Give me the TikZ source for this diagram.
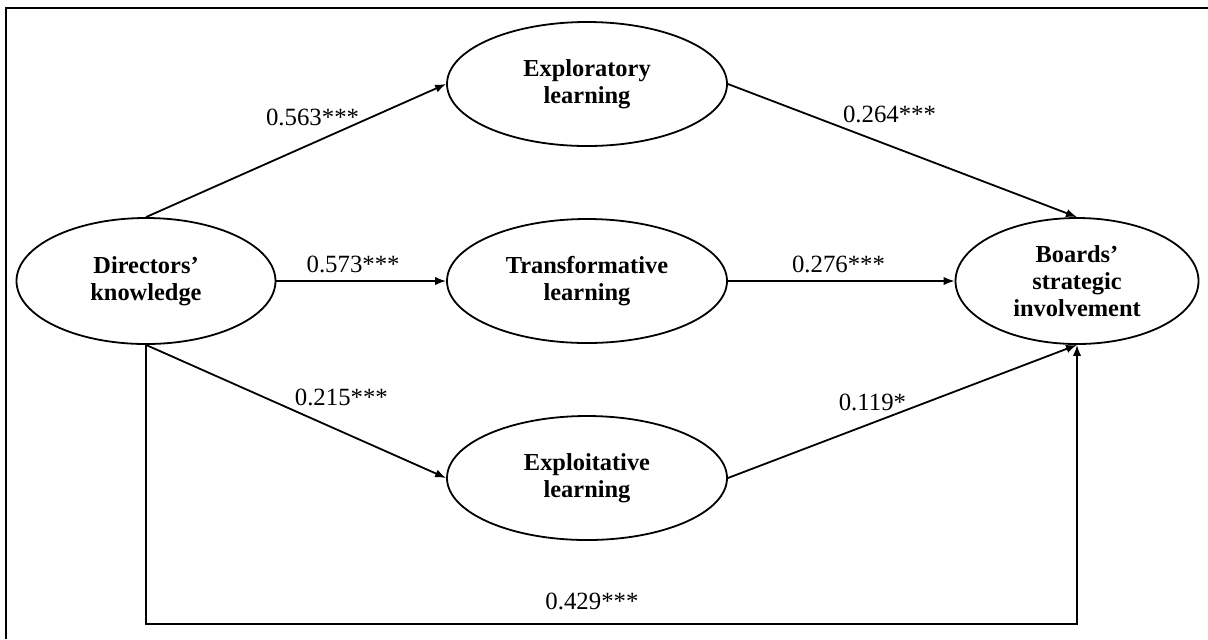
\documentclass[tikz,border=0pt]{standalone}
\usepackage{fontspec}
\setmainfont{Liberation Serif}
\usetikzlibrary{shapes.geometric,arrows.meta}
\begin{document}
\begin{tikzpicture}[x=0.5pt, y=-0.5pt]
% Mediation model drawn on the pixel grid of the figure (y runs down)
\providecommand{\semLineWidth}{0.9pt}
\providecommand{\semFrameWidth}{1.2pt}
\tikzset{
  latent/.style={ellipse, draw, line width=\semLineWidth, inner sep=0pt,
    align=center, font=\fontsize{12.2}{13.5}\selectfont\bfseries},
  effect/.style={-{Latex[length=5.5pt,width=4.2pt]}, line width=\semLineWidth},
  coef/.style={inner sep=0pt, font=\fontsize{12.4}{14}\selectfont}
}
\useasboundingbox (0,0) rectangle (1208,639);
% Frame, cut off at the right and bottom
\draw[line width=\semFrameWidth] (6,639) -- (6,8) -- (1208,8);
% Constructs
\node[latent, minimum width=129.5pt, minimum height=63pt] (dk) at (146,281) {Directors'\\knowledge};
\node[latent, minimum width=140pt, minimum height=62pt] (expl) at (587,84) {Exploratory\\learning};
\node[latent, minimum width=140pt, minimum height=62pt] (trans) at (587,281) {Transformative\\learning};
\node[latent, minimum width=140pt, minimum height=62pt] (explt) at (587,478) {Exploitative\\learning};
\node[latent, minimum width=121.5pt, minimum height=63pt] (bsi) at (1077,281) {Boards'\\strategic\\involvement};
% Paths with coefficients
\draw[effect] (dk.north) -- node[coef, pos=0.555, above=8.3pt] (c563) {0.563***} (expl.west);
\draw[effect] (expl.east) -- node[coef, pos=0.463, above=11pt] (c264) {0.264***} (bsi.north);
\draw[effect] (dk.east) -- node[coef, pos=0.452, above=3.5pt] (c573) {0.573***} (trans.west);
\draw[effect] (trans.east) -- node[coef, pos=0.488, above=3.5pt] (c276) {0.276***} (bsi.west);
\draw[effect] (dk.south) -- node[coef, pos=0.651, above=12.5pt] (c215) {0.215***} (explt.west);
\draw[effect] (explt.east) -- node[coef, pos=0.414, above=5.75pt] (c119) {0.119*} (bsi.south);
% Direct effect along the bottom
\coordinate (base) at (0,624);
\draw[effect] (dk.south) -- (dk.south |- base)
  -- node[coef, pos=0.479, above=6.5pt] (c429) {0.429***} (bsi.south |- base)
  -- (bsi.south);
\end{tikzpicture}
\end{document}
